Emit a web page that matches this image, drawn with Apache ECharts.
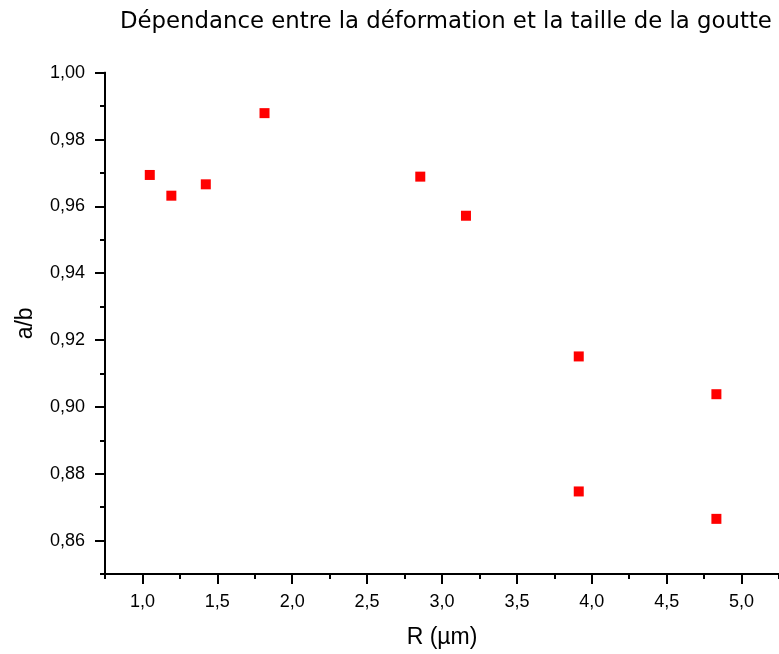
<!DOCTYPE html>
<html><head><meta charset="utf-8">
<script src="https://cdn.jsdelivr.net/npm/echarts@6/dist/echarts.min.js"></script>
<style>html,body{margin:0;padding:0;background:#fff}#c{width:779px;height:654px}</style>
</head><body><div id="c"></div>
<script>
var titleText = 'Dépendance entre la déformation et la taille de la goutte';
var xName = 'R (µm)';
var yName = 'a/b';
var rValues = [1.049, 1.193, 1.423, 1.815, 2.855, 3.160, 3.913, 4.832, 3.913, 4.832];
var abValues = [0.9694, 0.9632, 0.9666, 0.9879, 0.9689, 0.9572, 0.9151, 0.9038, 0.8747, 0.8665];
var xMajorTicks = [1.0, 1.5, 2.0, 2.5, 3.0, 3.5, 4.0, 4.5, 5.0];
var xMinorTicks = [0.75, 1.25, 1.75, 2.25, 2.75, 3.25, 3.75, 4.25, 4.75, 5.25];
var yMajorTicks = [0.86, 0.88, 0.90, 0.92, 0.94, 0.96, 0.98, 1.00];
var yMinorTicks = [0.85, 0.87, 0.89, 0.91, 0.93, 0.95, 0.97, 0.99];

var FONT = 'Liberation Sans, Arial, sans-serif';
var pts = rValues.map(function(r, i){ return [r, abValues[i]]; });

function baseAxis(minV, maxV){
  return {
    type: 'value', min: minV, max: maxV,
    splitLine: {show: false},
    axisLine: {show: true, onZero: false, lineStyle: {color: '#000', width: 2}}
  };
}
var xMain = baseAxis(0.75, 5.25);
xMain.name = xName; xMain.nameLocation = 'middle'; xMain.nameGap = 52;
xMain.nameTextStyle = {fontFamily: FONT, fontSize: 23, color: '#000'};
xMain.axisTick = {show: true, length: 10, lineStyle: {color: '#000', width: 2}, customValues: xMajorTicks};
xMain.axisLabel = {show: true, fontFamily: FONT, fontSize: 18, color: '#000', margin: 19,
  customValues: xMajorTicks, formatter: function(v){ return v.toFixed(1).replace('.', ','); }};
var xMinor = baseAxis(0.75, 5.25);
xMinor.position = 'bottom';
xMinor.axisTick = {show: true, length: 5, lineStyle: {color: '#000', width: 2}, customValues: xMinorTicks};
xMinor.axisLabel = {show: false};

var yMain = baseAxis(0.85, 1.00);
yMain.name = yName; yMain.nameLocation = 'middle'; yMain.nameGap = 68; yMain.nameRotate = 90;
yMain.nameTextStyle = {fontFamily: FONT, fontSize: 23, color: '#000'};
yMain.axisTick = {show: true, length: 10, lineStyle: {color: '#000', width: 2}, customValues: yMajorTicks};
yMain.axisLabel = {show: true, fontFamily: FONT, fontSize: 18, color: '#000', margin: 20,
  customValues: yMajorTicks, formatter: function(v){ return v.toFixed(2).replace('.', ','); }};
var yMinor = baseAxis(0.85, 1.00);
yMinor.position = 'left';
yMinor.axisTick = {show: true, length: 5, lineStyle: {color: '#000', width: 2}, customValues: yMinorTicks};
yMinor.axisLabel = {show: false};

var chart = echarts.init(document.getElementById('c'), null, {renderer: 'canvas'});
chart.setOption({
  animation: false,
  backgroundColor: '#fff',
  title: {text: titleText, left: 115, top: 6,
    textStyle: {fontFamily: 'DejaVu Sans, sans-serif', fontSize: 22.8, fontWeight: 'normal', color: '#000'}},
  grid: {left: 105, top: 72.7, width: 677.6, height: 502.6, containLabel: false},
  xAxis: [xMain, xMinor],
  yAxis: [yMain, yMinor],
  series: [{
    type: 'scatter', xAxisIndex: 0, yAxisIndex: 0,
    symbol: 'rect', symbolSize: 10,
    itemStyle: {color: '#ff0000', opacity: 1},
    data: pts
  }]
});
</script>
</body></html>
